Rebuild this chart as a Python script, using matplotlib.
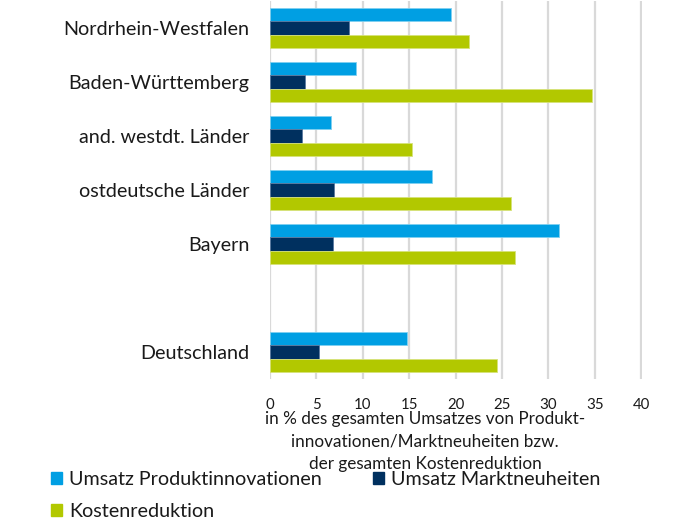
import matplotlib
matplotlib.use("Agg")
import matplotlib.pyplot as plt
import numpy as np
from matplotlib.patches import Patch

plt.rcParams['font.family'] = ['Lato', 'DejaVu Sans']

categories = ["Nordrhein-Westfalen", "Baden-Württemberg", "and. westdt. Länder",
              "ostdeutsche Länder", "Bayern", "Deutschland"]
produktinnovationen = [19.5, 9.3, 6.6, 17.5, 31.2, 14.8]
marktneuheiten = [8.5, 3.8, 3.5, 6.9, 6.8, 5.3]
kostenreduktion = [21.5, 34.7, 15.3, 26.0, 26.4, 24.5]
xticks = [0, 5, 10, 15, 20, 25, 30, 35, 40]
series_names = ["Umsatz Produktinnovationen", "Umsatz Marktneuheiten", "Kostenreduktion"]
colors = ["#009FE3", "#00305F", "#B2C800"]
xlabel = "in % des gesamten Umsatzes von Produkt-\ninnovationen/Marktneuheiten bzw.\nder gesamten Kostenreduktion"

fig = plt.figure(figsize=(6.83, 5.2), dpi=100)
ax = fig.add_axes([270/683, 1-379/520, 372/683, 378/520])

# positions: one empty slot between the regional groups and Deutschland
pos = np.array([0, 1, 2, 3, 4, 6], dtype=float)
h = 0.245
ax.barh(pos - h, produktinnovationen, height=h, color=colors[0], edgecolor="#7fd0f0", linewidth=0.6, zorder=3)
ax.barh(pos, marktneuheiten, height=h, color=colors[1], edgecolor="#5a7aa0", linewidth=0.6, zorder=3)
ax.barh(pos + h, kostenreduktion, height=h, color=colors[2], edgecolor="#d6e27a", linewidth=0.6, zorder=3)

ax.set_ylim(6.5, -0.5)
ax.set_xlim(0, 40.1)
ax.set_yticks(pos)
ax.set_yticklabels(categories, fontsize=14.2)
ax.set_xticks(xticks)
ax.set_xticklabels([str(t) for t in xticks], fontsize=10.8)
ax.tick_params(axis='both', length=0, colors="#1a1a1a")
ax.tick_params(axis='y', pad=15)
ax.tick_params(axis='x', pad=14)
for s in ax.spines.values():
    s.set_visible(False)
ax.grid(axis='x', color="#d9d9d9", linewidth=1.6, zorder=0)
ax.set_axisbelow(True)

fig.text(425/683, 1-411/520, xlabel, ha='center', va='top', fontsize=12.3, linespacing=1.5, color="#1a1a1a")

handles = [Patch(color=colors[0]), Patch(color=colors[2]), Patch(color=colors[1])]
labels = [series_names[0], series_names[2], series_names[1]]
fig.legend(handles, labels, ncol=2, loc='upper left', bbox_to_anchor=(51/683, 1-471/520),
           frameon=False, fontsize=14.2, handlelength=0.56, handleheight=0.56, handletextpad=0.35,
           columnspacing=2.6, labelspacing=0.75, borderaxespad=0, borderpad=0,
           labelcolor="#1a1a1a")

fig.savefig("out.png", dpi=100)
